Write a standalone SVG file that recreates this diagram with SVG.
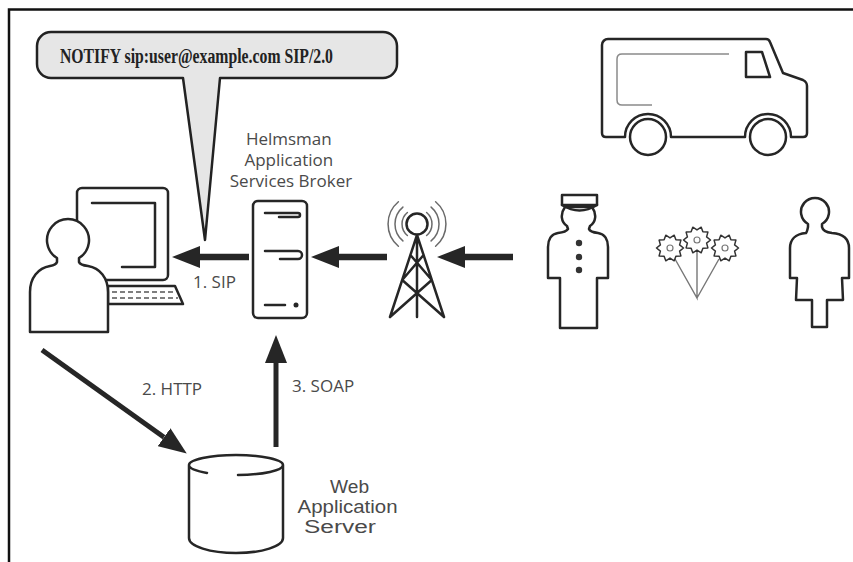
<svg xmlns="http://www.w3.org/2000/svg" width="853" height="562" viewBox="0 0 853 562">
  <style>
    .ln { fill: none; stroke: #262626; stroke-width: 2.5; stroke-linejoin: round; stroke-linecap: round; }
    .fw { fill: #ffffff; stroke: #262626; stroke-width: 2.5; stroke-linejoin: round; }
    .thin { fill: none; stroke: #6a6a6a; stroke-width: 1.5; stroke-linecap: round; }
    .lbl { font-family: "Open Sans", "Liberation Sans", sans-serif; font-size: 17px; fill: #4a4a4a; }
    .lbl2 { font-family: "Liberation Sans", Arial, sans-serif; font-size: 17.5px; fill: #4a4a4a; }
    .arrow { stroke: #262626; fill: none; }
  </style>
  <defs>
    <marker id="head" markerUnits="userSpaceOnUse" markerWidth="28" markerHeight="22" refX="0" refY="11" orient="auto">
      <path d="M0,0 L28,11 L0,22 Z" fill="#262626"/>
    </marker>
    <polygon id="gear" points="13.5,0 9.6,3.1 10.9,7.9 5.9,8.2 4.2,12.8 0,10.1 -4.2,12.8 -5.9,8.2 -10.9,7.9 -9.6,3.1 -13.5,0 -9.6,-3.1 -10.9,-7.9 -5.9,-8.2 -4.2,-12.8 0,-10.1 4.2,-12.8 5.9,-8.2 10.9,-7.9 9.6,-3.1" fill="#fff" stroke="#333" stroke-width="1.5" stroke-linejoin="round"/>
  </defs>

  <rect width="853" height="562" fill="#ffffff"/>

  <!-- page frame: top and left rules -->
  <path d="M9,562 V9.5 H853" fill="none" stroke="#111" stroke-width="2.5"/>

  <!-- speech bubble with SIP NOTIFY request -->
  <g id="notify-bubble">
    <path d="M51,32 H383 A14,14 0 0 1 397,46 V64 A14,14 0 0 1 383,78 H220 L205,240 L183,78 H51 A14,14 0 0 1 37,64 V46 A14,14 0 0 1 51,32 Z" fill="#e6e6e6" stroke="#222" stroke-width="2.5" stroke-linejoin="round"/>
    <text x="60" y="63" font-family="'Liberation Serif', 'Times New Roman', serif" font-weight="bold" font-size="20" fill="#222" textLength="273" lengthAdjust="spacingAndGlyphs">NOTIFY sip:user@example.com SIP/2.0</text>
  </g>

  <!-- user at workstation -->
  <g id="user-workstation">
    <rect x="77" y="188" width="91" height="92" rx="5" class="fw" stroke-width="3"/>
    <polyline points="92,203 155,203 155,267 122,267" class="ln"/>
    <polygon points="108,286 175,286 183,304 108,304" class="fw"/>
    <path d="M112,292 H174 M112,298 H178" fill="none" stroke="#555" stroke-width="1.5" stroke-dasharray="5,3"/>
    <path d="M57,258 A21,21 0 1 1 79,258 L79,262 Q80,265 88,266 C100,268 108,278 108,292 L108,332 L30,332 L30,292 C30,278 38,268 50,266 Q56,265 57,262 Z" class="fw" stroke-width="3"/>
  </g>

  <!-- Helmsman application services broker -->
  <g id="broker">
    <rect x="253" y="201" width="54" height="117" rx="5" class="fw" stroke-width="3"/>
    <path d="M265,213 H298 A2,2 0 0 1 298,217 H279" class="ln" stroke-width="2"/>
    <path d="M265,251 H298 A4,4 0 0 1 298,259 H280" class="ln" stroke-width="2"/>
    <path d="M265,305 H285" class="ln" stroke-width="2"/>
    <circle cx="296" cy="305" r="2.5" fill="#262626"/>
    <text class="lbl" text-anchor="middle">
      <tspan x="291" y="145">Helmsman</tspan>
      <tspan x="291" y="166">Application</tspan>
      <tspan x="291" y="187">Services Broker</tspan>
    </text>
  </g>

  <!-- radio tower -->
  <g id="tower">
    <circle cx="417" cy="224" r="10.5" class="fw"/>
    <path d="M390,317 L417,235 L444,317 M417,235 V317 M410.4,255 L431.8,280 M423.6,255 L402.2,280 M402.2,280 L444,317 M431.8,280 L390,317" class="ln"/>
    <path d="M407.4,212.5 A15,15 0 0 0 407.4,235.5 M402.9,207.1 A22,22 0 0 0 402.9,240.9 M398.4,201.8 A29,29 0 0 0 398.4,246.2" class="thin"/>
    <path d="M426.6,212.5 A15,15 0 0 1 426.6,235.5 M431.1,207.1 A22,22 0 0 1 431.1,240.9 M435.6,201.8 A29,29 0 0 1 435.6,246.2" class="thin"/>
  </g>

  <!-- doorman -->
  <g id="doorman">
    <path d="M565,207 C560,214 561,222 567,226 L568,229 Q566,232 558,233 C551,234 548,240 548,247 L548,278 L560,278 L560,328 L597,328 L597,278 L608,278 L608,247 C608,240 605,234 598,233 Q590,232 589,229 L590,226 C596,222 597,214 592,207 Z" class="fw"/>
    <rect x="562" y="195" width="35" height="10" class="fw" stroke-width="2.2"/>
    <path d="M562,205 Q579.5,216 597,205" class="ln" stroke-width="2.2"/>
    <circle cx="579" cy="243" r="3.2" fill="#333"/>
    <circle cx="579" cy="257" r="3.2" fill="#333"/>
    <circle cx="579" cy="270" r="3.2" fill="#333"/>
  </g>

  <!-- bouquet of flowers -->
  <g id="flowers">
    <path d="M675,259 L697,298 L697,252 M697,298 L719,259" fill="none" stroke="#777" stroke-width="1.4"/>
    <use href="#gear" x="670" y="248"/>
    <use href="#gear" x="697" y="240"/>
    <use href="#gear" x="725" y="248"/>
    <circle cx="670" cy="248" r="3" fill="none" stroke="#777" stroke-width="1.2"/>
    <circle cx="697" cy="240" r="3" fill="none" stroke="#777" stroke-width="1.2"/>
    <circle cx="725" cy="248" r="3" fill="none" stroke="#777" stroke-width="1.2"/>
  </g>

  <!-- recipient -->
  <g id="recipient">
    <path d="M808,224 A14,14 0 1 1 822,224 L822,227 Q823,232 832,233 C844,234 849,240 849,248 L849,278 L842,278 L843,300 L827,300 L827,327 L812,327 L812,300 L796,300 L797,278 L790,278 L790,248 C790,240 795,234 806,233 Q807,232 808,227 Z" class="fw"/>
  </g>

  <!-- delivery van -->
  <g id="van">
    <path d="M602,45 A6,6 0 0 1 608,39 H766 Q769,39 770,42 L783,73 L803,80 Q807,82 807,86 V133 Q807,137 803,137 H791 A23,23 0 0 0 745,137 H671 A23,23 0 0 0 625,137 H606 Q602,137 602,133 Z" class="fw"/>
    <polygon points="746,52 762,52 770,77 746,77" class="ln" stroke-width="2"/>
    <path d="M729,54 H622 Q617,54 617,59 V100 Q617,105 622,105 H652" fill="none" stroke="#8a8a8a" stroke-width="1.5"/>
    <circle cx="648" cy="137" r="18" class="fw"/>
    <circle cx="768" cy="137" r="18" class="fw"/>
  </g>

  <!-- web application server -->
  <g id="web-app-server">
    <path d="M189,465 V538 A47,15 0 0 0 283,538 V465 A47,10 0 0 0 189,465 Z" fill="#fff" stroke="none"/>
    <path d="M189,465 V538 A47,15 0 0 0 283,538 V465 A47,10 0 0 0 189,465 M189,465 A47,10 0 0 0 207,472.9 M238,475 A47,10 0 0 0 283,465" class="ln" stroke-width="2.5"/>
    <text class="lbl2" text-anchor="middle">
      <tspan x="352" y="493" textLength="39" lengthAdjust="spacingAndGlyphs">Web</tspan>
      <tspan x="350" y="513" textLength="100" lengthAdjust="spacingAndGlyphs">Application</tspan>
      <tspan x="340" y="533" textLength="72" lengthAdjust="spacingAndGlyphs">Server</tspan>
    </text>
  </g>

  <!-- message flow -->
  <g id="connectors">
    <line x1="513" y1="257" x2="465" y2="257" class="arrow" stroke-width="6.5" marker-end="url(#head)"/>
    <line x1="387" y1="257" x2="339" y2="257" class="arrow" stroke-width="6.5" marker-end="url(#head)"/>
    <line x1="249" y1="257" x2="200" y2="257" class="arrow" stroke-width="6.5" marker-end="url(#head)"/>
    <line x1="42" y1="350" x2="164" y2="437.3" class="arrow" stroke-width="5" marker-end="url(#head)"/>
    <line x1="276" y1="447" x2="276" y2="363" class="arrow" stroke-width="5" marker-end="url(#head)"/>
    <text class="lbl" x="193" y="288">1. SIP</text>
    <text class="lbl" x="142" y="395">2. HTTP</text>
    <text class="lbl" x="292" y="392">3. SOAP</text>
  </g>
</svg>
